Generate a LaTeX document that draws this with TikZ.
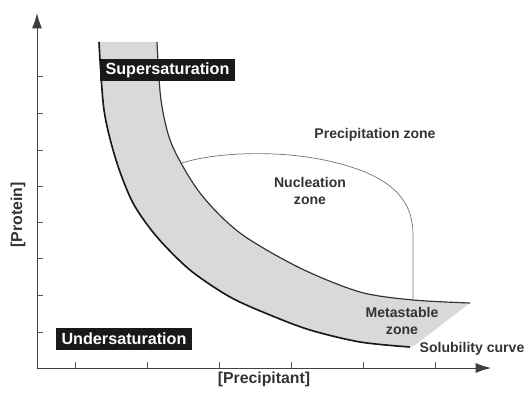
\documentclass[tikz,border=0pt]{standalone}
\usepackage{fontspec}
\setmainfont{Liberation Sans}
\usetikzlibrary{arrows.meta}

\begin{document}
\begin{tikzpicture}[
    x=0.3mm, y=-0.3mm,
    >={Latex[length=4.6mm, width=3mm]},
    axis/.style={->, line width=0.8pt, black!75},
    tick/.style={line width=0.6pt, black!65},
    band/.style={fill=black!15},
    solub/.style={line width=1.4pt, black!90},
    supcurve/.style={line width=1pt, black!80},
    nucl/.style={line width=0.6pt, black!55},
    lbl/.style={font=\fontsize{12}{15.3}\selectfont\bfseries,
                text=black!80, align=center},
    axlbl/.style={font=\fontsize{13.5}{16}\selectfont\bfseries,
                  text=black!80},
    tag/.style={fill=black!90, text=white,
                inner xsep=1.6mm, inner ysep=0pt,
                minimum height=6.6mm,
                font=\fontsize{13.8}{16}\selectfont\bfseries},
]

\useasboundingbox (0,0) rectangle (528,392);

% Metastable band between the two curves
\fill[band]
  plot[smooth] coordinates {(157,42) (161,100) (172,145)
    (200,193) (240,233) (300,268) (360,292) (413,300) (470,303)}
  -- (415,345)
  -- plot[smooth] coordinates {(410,347) (360,342) (310,330)
    (270,315) (230,297) (190,270) (157,237) (133,203) (116,160)
    (104,110) (99,42)}
  -- cycle;

% Supersolubility curve
\draw[supcurve] plot[smooth] coordinates {(157,42) (161,100)
  (172,145) (200,193) (240,233) (300,268) (360,292) (413,300)
  (470,303)};

% Solubility curve
\draw[solub] plot[smooth] coordinates {(99,42) (104,110)
  (116,160) (133,203) (157,237) (190,270) (230,297) (270,315)
  (310,330) (360,342) (410,347)};

% Nucleation zone boundary
\draw[nucl] (182,163) .. controls (215,152) and (300,146) .. (365,172)
  .. controls (398,186) and (413,205) .. (413,235) -- (413,300);

% Axes
\coordinate (origin) at (37,368);
\coordinate (ytip) at (37,13);
\coordinate (xtip) at (491,368);
\draw[axis] (origin) -- (ytip);
\draw[axis] (origin) -- (xtip);

\foreach \ty in {76,113,150,186,222,258,295,332}
  \draw[tick] (37,\ty) -- ++(6,0);
\foreach \tx in {75,147,219,291,363,435}
  \draw[tick] (\tx,368) -- ++(0,-6);

% Axis labels
\node[axlbl, rotate=90] (protein) at (18,215) {[Protein]};
\node[axlbl] (precip) at (264,379) {[Precipitant]};

% Zone labels
\node[tag] (super) at (167.5,70) {Supersaturation};
\node[tag] (under) at (124,338.5) {Undersaturation};
\node[lbl] (prec) at (375,135) {Precipitation zone};
\node[lbl] (nuc) at (310,191) {Nucleation\\zone};
\node[lbl] (meta) at (402,321) {Metastable\\zone};
\node[lbl] (solcurve) at (472,349) {Solubility curve};

\end{tikzpicture}
\end{document}
